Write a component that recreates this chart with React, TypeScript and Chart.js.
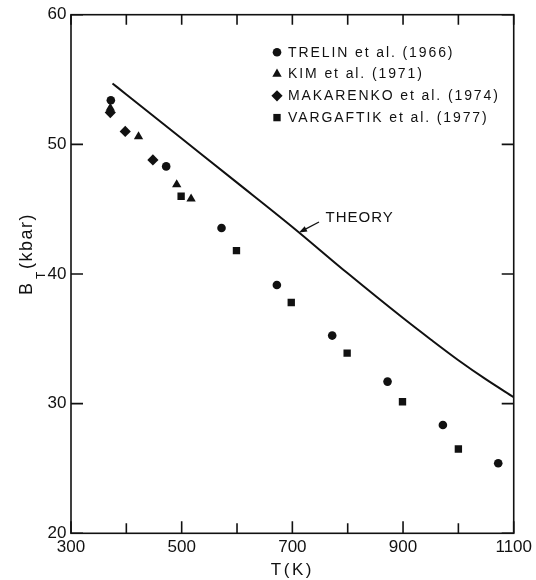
import React, { useEffect, useRef } from 'react';
import { Chart, registerables } from 'chart.js';
import { drawPoint } from 'chart.js/helpers';

Chart.register(...registerables);

const FONT = "'Liberation Sans', Arial, Helvetica, sans-serif";
const INK = '#111';

// Axis ranges and tick labels
const X_MIN = 300;
const X_MAX = 1100;
const X_STEP = 100;
const X_LABELS = [300, 500, 700, 900, 1100];
const Y_MIN = 20;
const Y_MAX = 60;
const Y_STEP = 10;

// Calculated isothermal bulk modulus (kbar) vs temperature (K)
const THEORY_T = [375, 400, 500, 600, 700, 800, 900, 950, 1000, 1050, 1100];
const THEORY_B = [54.7, 53.85, 50.45, 47.05, 43.63, 40.05, 36.6, 34.95, 33.35, 31.87, 30.5];

// Measurements
const TRELIN_T = [372, 472, 572, 672, 772, 872, 972, 1072];
const TRELIN_B = [53.4, 48.3, 43.55, 39.15, 35.25, 31.7, 28.35, 25.4];

const KIM_T = [371, 422, 491, 517];
const KIM_B = [52.8, 50.6, 46.9, 45.8];

const MAKARENKO_T = [371, 398, 448];
const MAKARENKO_B = [52.45, 51.0, 48.8];

const VARGAFTIK_T = [499, 599, 698, 799, 899, 1000];
const VARGAFTIK_B = [46.0, 41.8, 37.8, 33.9, 30.15, 26.5];

const SERIES = [
  { label: 'TRELIN et al. (1966)', t: TRELIN_T, b: TRELIN_B, style: 'circle', radius: 4.3 },
  { label: 'KIM et al. (1971)', t: KIM_T, b: KIM_B, style: 'triangle', radius: 5.4 },
  { label: 'MAKARENKO et al. (1974)', t: MAKARENKO_T, b: MAKARENKO_B, style: 'rectRot', radius: 5.6 },
  { label: 'VARGAFTIK et al. (1977)', t: VARGAFTIK_T, b: VARGAFTIK_B, style: 'rect', radius: 5.2 },
];

const THEORY_NOTE = 'THEORY';
const NOTE_T = 760;
const NOTE_B = 44.3;
const ARROW_T = 712;

function theoryAt(t: number): number {
  for (let i = 0; i < THEORY_T.length - 1; i++) {
    if (t >= THEORY_T[i] && t <= THEORY_T[i + 1]) {
      const f = (t - THEORY_T[i]) / (THEORY_T[i + 1] - THEORY_T[i]);
      return THEORY_B[i] + f * (THEORY_B[i + 1] - THEORY_B[i]);
    }
  }
  return THEORY_B[THEORY_B.length - 1];
}

const setSpacing = (ctx: any, px: number) => {
  if ('letterSpacing' in ctx) ctx.letterSpacing = px + 'px';
};

// Box around the plot with inward tick marks on all four sides
const framePlugin = {
  id: 'frameTicks',
  afterDatasetsDraw(chart: any) {
    const { ctx, chartArea: a, scales } = chart;
    const x = scales.x;
    const y = scales.y;
    ctx.save();
    ctx.strokeStyle = INK;
    ctx.lineWidth = 1.6;
    ctx.strokeRect(a.left, a.top, a.right - a.left, a.bottom - a.top);
    ctx.beginPath();
    for (const tk of x.ticks) {
      const px = x.getPixelForValue(tk.value);
      const len = X_LABELS.includes(tk.value) ? 12 : 10;
      ctx.moveTo(px, a.bottom);
      ctx.lineTo(px, a.bottom - len);
      ctx.moveTo(px, a.top);
      ctx.lineTo(px, a.top + 10);
    }
    for (const tk of y.ticks) {
      const py = y.getPixelForValue(tk.value);
      ctx.moveTo(a.left, py);
      ctx.lineTo(a.left + 12, py);
      ctx.moveTo(a.right, py);
      ctx.lineTo(a.right - 12, py);
    }
    ctx.stroke();
    ctx.restore();
  },
};

// Legend, theory annotation and axis titles
const decorPlugin = {
  id: 'decor',
  afterDraw(chart: any) {
    const { ctx, chartArea: a, scales } = chart;
    const x = scales.x;
    const y = scales.y;
    ctx.save();
    ctx.fillStyle = INK;
    ctx.strokeStyle = INK;

    // legend
    const mx = a.left + 206;
    const tx = a.left + 217;
    const y0 = a.top + 37.5;
    const dy = 21.8;
    ctx.font = `14px ${FONT}`;
    setSpacing(ctx, 1.9);
    ctx.textAlign = 'left';
    ctx.textBaseline = 'middle';
    SERIES.forEach((s, i) => {
      const ry = y0 + i * dy;
      ctx.fillStyle = INK;
      drawPoint(ctx, { pointStyle: s.style, radius: s.radius, rotation: 0, borderWidth: 0 } as any, mx, ry);
      ctx.fillText(s.label, tx, ry + 0.5);
    });

    // theory note with arrow
    const tipX = x.getPixelForValue(ARROW_T);
    const tipY = y.getPixelForValue(theoryAt(ARROW_T));
    const tailX = tipX + 20;
    const tailY = tipY - 10.5;
    ctx.lineWidth = 1.3;
    ctx.beginPath();
    ctx.moveTo(tailX, tailY);
    ctx.lineTo(tipX + 5, tipY - 2.6);
    ctx.stroke();
    const ang = Math.atan2(tipY - tailY, tipX - tailX);
    ctx.beginPath();
    ctx.moveTo(tipX, tipY);
    ctx.lineTo(tipX - 8 * Math.cos(ang) + 3 * Math.sin(ang), tipY - 8 * Math.sin(ang) - 3 * Math.cos(ang));
    ctx.lineTo(tipX - 8 * Math.cos(ang) - 3 * Math.sin(ang), tipY - 8 * Math.sin(ang) + 3 * Math.cos(ang));
    ctx.closePath();
    ctx.fill();
    ctx.font = `15px ${FONT}`;
    setSpacing(ctx, 1);
    ctx.fillText(THEORY_NOTE, x.getPixelForValue(NOTE_T), y.getPixelForValue(NOTE_B));

    // x title
    ctx.font = `17px ${FONT}`;
    setSpacing(ctx, 2.5);
    ctx.textAlign = 'center';
    ctx.textBaseline = 'middle';
    ctx.fillText('T(K)', (a.left + a.right) / 2, 570);

    // y title with subscript
    ctx.translate(32, (a.top + a.bottom) / 2 + 21);
    ctx.rotate(-Math.PI / 2);
    ctx.textAlign = 'left';
    ctx.textBaseline = 'alphabetic';
    ctx.font = `18px ${FONT}`;
    setSpacing(ctx, 1.5);
    ctx.fillText('B', 0, 0);
    ctx.font = `12px ${FONT}`;
    setSpacing(ctx, 0);
    ctx.fillText('T', 16, 12.5);
    ctx.font = `18px ${FONT}`;
    setSpacing(ctx, 1.5);
    ctx.fillText('(kbar)', 26, 0);
    ctx.restore();
  },
};

export default function App() {
  const ref = useRef<HTMLCanvasElement | null>(null);

  useEffect(() => {
    if (!ref.current) return;
    const pointSets = SERIES.map((s) => ({
      label: s.label,
      data: s.t.map((t, i) => ({ x: t, y: s.b[i] })),
      showLine: false,
      pointStyle: s.style,
      pointRadius: s.radius,
      pointBorderWidth: 0,
      pointBackgroundColor: INK,
      pointBorderColor: INK,
    }));
    const chart = new Chart(ref.current, {
      type: 'scatter',
      data: {
        datasets: [
          {
            label: 'THEORY',
            data: THEORY_T.map((t, i) => ({ x: t, y: THEORY_B[i] })),
            showLine: true,
            borderColor: INK,
            borderWidth: 2,
            pointRadius: 0,
            cubicInterpolationMode: 'monotone',
          } as any,
          ...(pointSets as any[]),
        ],
      },
      options: {
        responsive: false,
        animation: false,
        layout: { padding: { top: 14.5, right: 20, left: 0, bottom: 0 } },
        plugins: { legend: { display: false }, tooltip: { enabled: false } },
        scales: {
          x: {
            type: 'linear',
            min: X_MIN,
            max: X_MAX,
            border: { display: false },
            grid: { display: false, drawTicks: false },
            ticks: {
              stepSize: X_STEP,
              autoSkip: false,
              maxRotation: 0,
              padding: 4,
              color: INK,
              font: { family: FONT, size: 17 },
              callback: (v: any) => (X_LABELS.includes(Number(v)) ? String(v) : ''),
            },
            afterFit: (s: any) => {
              s.height = 46.7;
            },
          },
          y: {
            type: 'linear',
            min: Y_MIN,
            max: Y_MAX,
            border: { display: false },
            grid: { display: false, drawTicks: false },
            ticks: {
              stepSize: Y_STEP,
              padding: 4.5,
              color: INK,
              font: { family: FONT, size: 17 },
            },
            afterFit: (s: any) => {
              s.width = 71;
            },
          },
        },
      },
      plugins: [framePlugin, decorPlugin],
    });
    return () => chart.destroy();
  }, []);

  return (
    <div style={{ position: 'fixed', left: 0, top: 0, width: 536, height: 580, background: '#fff' }}>
      <canvas ref={ref} width={536} height={580} />
    </div>
  );
}
